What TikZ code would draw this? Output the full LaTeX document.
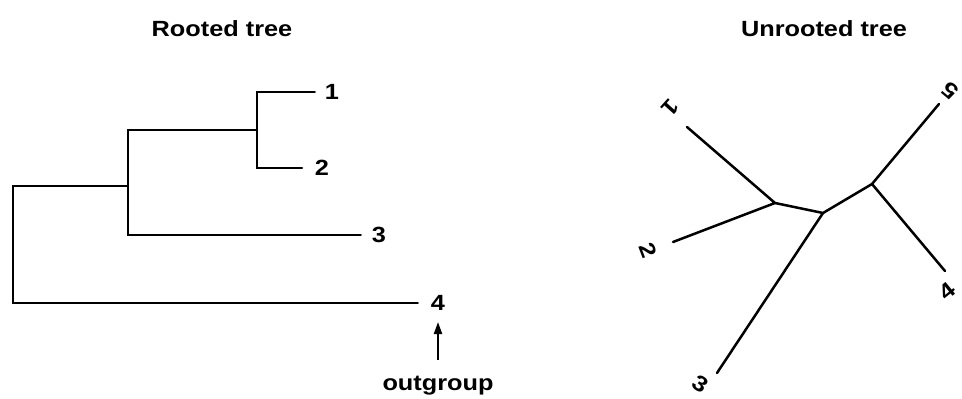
\documentclass[tikz,border=0pt]{standalone}
\usepackage{fontspec}
\newfontfamily\treefont{Liberation Sans}[FakeStretch=1.15]
\usetikzlibrary{arrows.meta,positioning}
\definecolor{ink}{HTML}{000000}

\begin{document}
\begin{tikzpicture}[x=1pt,y=-1pt,
  font=\treefont\bfseries\fontsize{22}{26}\selectfont,
  branch/.style={draw=ink,line width=2.5pt,line cap=round},
  taxon/.style={inner sep=0pt,text=ink}]
\useasboundingbox (0,0) rectangle (962,399);

% titles
\node[taxon] (rtitle) at (222,29) {Rooted tree};
\node[taxon] (utitle) at (824,29) {Unrooted tree};

% rooted tree
\coordinate (root) at (13,186);
\coordinate (n3) at (128,186);
\coordinate (n12) at (257,130);
\node[taxon] (r1) at (332,92) {1};
\node[taxon] (r2) at (322,168) {2};
\node[taxon] (r3) at (379,235) {3};
\node[taxon] (r4) at (438,303) {4};
\draw[branch] (r1.west) ++(-10,0) -| (n12) -| (r2.west -| n12) -- ++(45,0);
\draw[branch] (n12) -- (n12 -| n3) |- ([xshift=-11pt]r3.west);
\draw[branch] (n3) -- (root) |- ([xshift=-13pt]r4.west);
\node[taxon] (outg) at (438,386) {outgroup};
\coordinate (tail) at (438,360);
\coordinate (head) at (438,322);
\draw[draw=ink,line width=2pt,-{Triangle[length=12pt,width=8pt]}] (tail) -- (head);

% unrooted tree
\coordinate (ua) at (775,203);
\coordinate (ub) at (823,213);
\coordinate (uc) at (872,184);
\coordinate (e1) at (687,127);
\coordinate (e2) at (673,242);
\coordinate (e3) at (717,373);
\coordinate (e4) at (945,271);
\coordinate (e5) at (939,104);
\draw[branch] (e1) -- (ua) -- (e2);
\draw[branch] (ua) -- (ub) -- (e3);
\draw[branch] (ub) -- (uc) -- (e5);
\draw[branch] (uc) -- (e4);
\node[taxon,rotate=228] (u1) at (670,108) {1};
\node[taxon,rotate=291] (u2) at (648,250) {2};
\node[taxon,rotate=327] (u3) at (701,384) {3};
\node[taxon,rotate=39] (u4) at (947,291) {4};
\node[taxon,rotate=140] (u5) at (950,91) {5};
\end{tikzpicture}
\end{document}
